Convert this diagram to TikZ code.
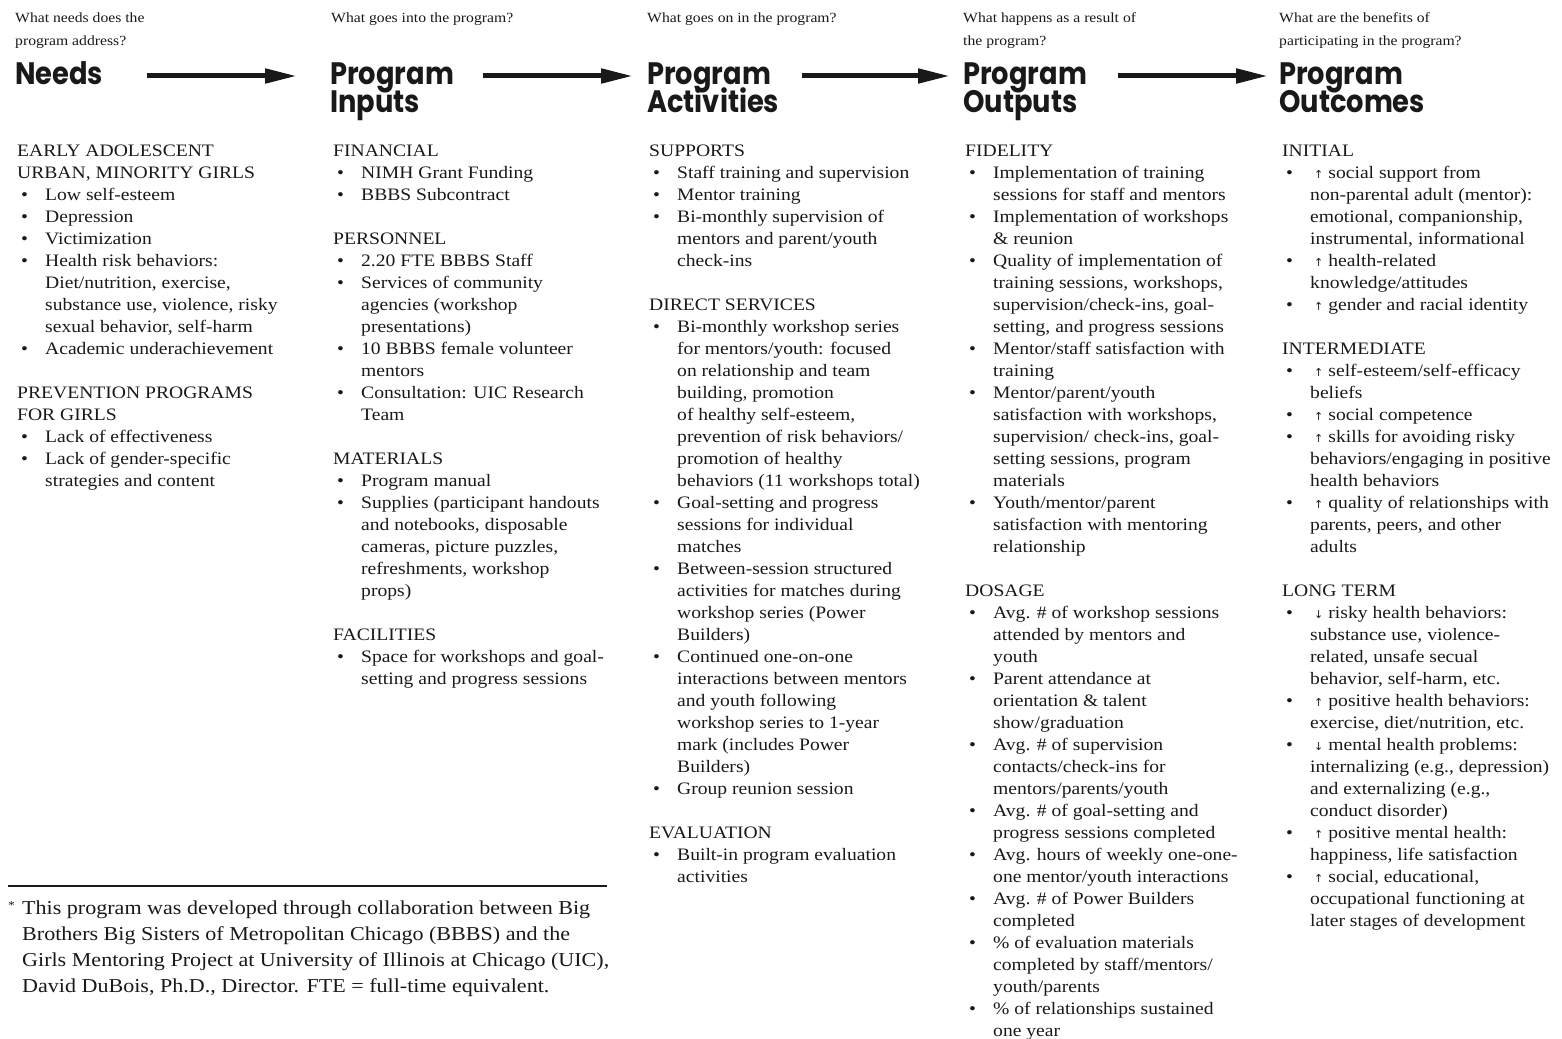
\documentclass[tikz,border=0pt]{standalone}
\usepackage{fontspec}
\setmainfont[FakeStretch=1.12]{Liberation Serif}
\newfontfamily\hfont[FakeStretch=0.88]{Poppins}
\newfontfamily\symf{DejaVu Sans}
\usetikzlibrary{arrows.meta}
\newcommand{\bu}{\makebox[28pt][l]{\hspace{4pt}\textbullet}}
\newcommand{\ct}{\hspace*{28pt}}
\newcommand{\ua}{\hspace{4pt}{\symf\fontsize{11}{11}\selectfont ↑}\hspace{5pt}}
\newcommand{\da}{\hspace{4pt}{\symf\fontsize{11}{11}\selectfont ↓}\hspace{5pt}}
\newcommand{\hdfont}{\hfont\bfseries\fontsize{31}{28}\selectfont\lineskiplimit=-100pt\relax\lineskip=0pt\relax}
\begin{document}
\begin{tikzpicture}[x=1pt,y=-1pt,
  q/.style={anchor=north west, inner sep=0pt, align=left, text=black!90, font=\fontsize{14}{23}\selectfont},
  hd/.style={anchor=north west, inner sep=0pt, align=left, text=black!90, font=\hdfont},
  col/.style={anchor=north west, inner sep=0pt, align=left, text=black!90, font=\fontsize{17.5}{22}\selectfont},
  foot/.style={anchor=north west, inner sep=0pt, align=left, text=black!90, font=\fontsize{19.7}{26}\selectfont},
  flow/.style={line width=5pt, draw=black!90, -{Triangle[length=32pt,width=14pt]}},
]
\useasboundingbox (0,0) rectangle (1562,1038);

% questions
\node[q] (q1) at (15,8) {\rule{0pt}{14pt}What needs does the\\program address?};
\node[q] (q2) at (331,8) {\rule{0pt}{14pt}What goes into the program?};
\node[q] (q3) at (647,8) {\rule{0pt}{14pt}What goes on in the program?};
\node[q] (q4) at (963,8) {\rule{0pt}{14pt}What happens as a result of\\the program?};
\node[q] (q5) at (1279,8) {\rule{0pt}{14pt}What are the benefits of\\participating in the program?};

% headings
\node[hd] (needs) at (15,58) {\rule{0pt}{26pt}Needs};
\node[hd] (inputs) at (330,58) {\rule{0pt}{26pt}Program\\Inputs};
\node[hd] (activities) at (647,58) {\rule{0pt}{26pt}Program\\Activities};
\node[hd] (outputs) at (963,58) {\rule{0pt}{26pt}Program\\Outputs};
\node[hd] (outcomes) at (1279,58) {\rule{0pt}{26pt}Program\\Outcomes};

\coordinate (a1s) at (147,76); \coordinate (a1e) at (297,76);
\coordinate (a2s) at (483,76); \coordinate (a2e) at (633,76);
\coordinate (a3s) at (802,76); \coordinate (a3e) at (950,76);
\coordinate (a4s) at (1118,76); \coordinate (a4e) at (1268,76);
\draw[flow] (a1s) -- (a1e);
\draw[flow] (a2s) -- (a2e);
\draw[flow] (a3s) -- (a3e);
\draw[flow] (a4s) -- (a4e);

% columns
\node[col] (c1) at (17,140) {\rule{0pt}{16pt}EARLY ADOLESCENT\\
URBAN, MINORITY GIRLS\\
\bu Low self-esteem\\
\bu Depression\\
\bu Victimization\\
\bu Health risk behaviors:\\
\ct Diet/nutrition, exercise,\\
\ct substance use, violence, risky\\
\ct sexual behavior, self-harm\\
\bu Academic underachievement\\[22pt]
PREVENTION PROGRAMS\\
FOR GIRLS\\
\bu Lack of effectiveness\\
\bu Lack of gender-specific\\
\ct strategies and content};

\node[col] (c2) at (333,140) {\rule{0pt}{16pt}FINANCIAL\\
\bu NIMH Grant Funding\\
\bu BBBS Subcontract\\[22pt]
PERSONNEL\\
\bu 2.20 FTE BBBS Staff\\
\bu Services of community\\
\ct agencies (workshop\\
\ct presentations)\\
\bu 10 BBBS female volunteer\\
\ct mentors\\
\bu Consultation: UIC Research\\
\ct Team\\[22pt]
MATERIALS\\
\bu Program manual\\
\bu Supplies (participant handouts\\
\ct and notebooks, disposable\\
\ct cameras, picture puzzles,\\
\ct refreshments, workshop\\
\ct props)\\[22pt]
FACILITIES\\
\bu Space for workshops and goal-\\
\ct setting and progress sessions};

\node[col] (c3) at (649,140) {\rule{0pt}{16pt}SUPPORTS\\
\bu Staff training and supervision\\
\bu Mentor training\\
\bu Bi-monthly supervision of\\
\ct mentors and parent/youth\\
\ct check-ins\\[22pt]
DIRECT SERVICES\\
\bu Bi-monthly workshop series\\
\ct for mentors/youth: focused\\
\ct on relationship and team\\
\ct building, promotion\\
\ct of healthy self-esteem,\\
\ct prevention of risk behaviors/\\
\ct promotion of healthy\\
\ct behaviors (11 workshops total)\\
\bu Goal-setting and progress\\
\ct sessions for individual\\
\ct matches\\
\bu Between-session structured\\
\ct activities for matches during\\
\ct workshop series (Power\\
\ct Builders)\\
\bu Continued one-on-one\\
\ct interactions between mentors\\
\ct and youth following\\
\ct workshop series to 1-year\\
\ct mark (includes Power\\
\ct Builders)\\
\bu Group reunion session\\[22pt]
EVALUATION\\
\bu Built-in program evaluation\\
\ct activities};

\node[col] (c4) at (965,140) {\rule{0pt}{16pt}FIDELITY\\
\bu Implementation of training\\
\ct sessions for staff and mentors\\
\bu Implementation of workshops\\
\ct \& reunion\\
\bu Quality of implementation of\\
\ct training sessions, workshops,\\
\ct supervision/check-ins, goal-\\
\ct setting, and progress sessions\\
\bu Mentor/staff satisfaction with\\
\ct training\\
\bu Mentor/parent/youth\\
\ct satisfaction with workshops,\\
\ct supervision/ check-ins, goal-\\
\ct setting sessions, program\\
\ct materials\\
\bu Youth/mentor/parent\\
\ct satisfaction with mentoring\\
\ct relationship\\[22pt]
DOSAGE\\
\bu Avg. \# of workshop sessions\\
\ct attended by mentors and\\
\ct youth\\
\bu Parent attendance at\\
\ct orientation \& talent\\
\ct show/graduation\\
\bu Avg. \# of supervision\\
\ct contacts/check-ins for\\
\ct mentors/parents/youth\\
\bu Avg. \# of goal-setting and\\
\ct progress sessions completed\\
\bu Avg. hours of weekly one-one-\\
\ct one mentor/youth interactions\\
\bu Avg. \# of Power Builders\\
\ct completed\\
\bu \% of evaluation materials\\
\ct completed by staff/mentors/\\
\ct youth/parents\\
\bu \% of relationships sustained\\
\ct one year};

\node[col] (c5) at (1282,140) {\rule{0pt}{16pt}INITIAL\\
\bu\ua social support from\\
\ct non-parental adult (mentor):\\
\ct emotional, companionship,\\
\ct instrumental, informational\\
\bu\ua health-related\\
\ct knowledge/attitudes\\
\bu\ua gender and racial identity\\[22pt]
INTERMEDIATE\\
\bu\ua self-esteem/self-efficacy\\
\ct beliefs\\
\bu\ua social competence\\
\bu\ua skills for avoiding risky\\
\ct behaviors/engaging in positive\\
\ct health behaviors\\
\bu\ua quality of relationships with\\
\ct parents, peers, and other\\
\ct adults\\[22pt]
LONG TERM\\
\bu\da risky health behaviors:\\
\ct substance use, violence-\\
\ct related, unsafe secual\\
\ct behavior, self-harm, etc.\\
\bu\ua positive health behaviors:\\
\ct exercise, diet/nutrition, etc.\\
\bu\da mental health problems:\\
\ct internalizing (e.g., depression)\\
\ct and externalizing (e.g.,\\
\ct conduct disorder)\\
\bu\ua positive mental health:\\
\ct happiness, life satisfaction\\
\bu\ua social, educational,\\
\ct occupational functioning at\\
\ct later stages of development};

% footnote
\coordinate (fl) at (8,886); \coordinate (fr) at (607,886);
\draw[line width=2pt, black!90] (fl) -- (fr);
\node[foot] (fn) at (8,894) {\rule{0pt}{20pt}\makebox[14pt][l]{\raisebox{5pt}{\fontsize{12}{12}\selectfont *}}This program was developed through collaboration between Big\\
\hspace*{14pt}Brothers Big Sisters of Metropolitan Chicago (BBBS) and the\\
\hspace*{14pt}Girls Mentoring Project at University of Illinois at Chicago (UIC),\\
\hspace*{14pt}David DuBois, Ph.D., Director. FTE = full-time equivalent.};
\end{tikzpicture}
\end{document}
